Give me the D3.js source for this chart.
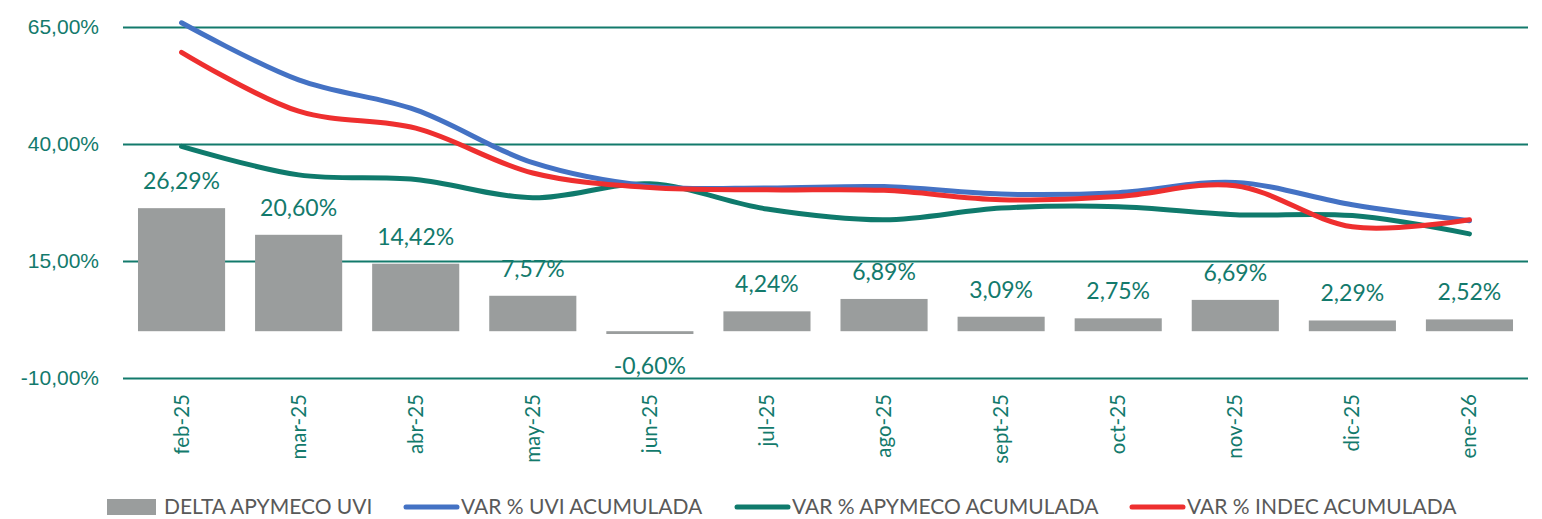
<!DOCTYPE html>
<html>
<head>
<meta charset="utf-8">
<script src="https://cdn.jsdelivr.net/npm/d3@7"></script>
<style>
  body { margin: 0; background: #fff; }
  svg { display: block; font-family: Lato, "Open Sans", sans-serif; }
</style>
</head>
<body>
<div id="chart"></div>
<script>
// Monthly categories
const months = ["feb-25", "mar-25", "abr-25", "may-25", "jun-25", "jul-25",
                "ago-25", "sept-25", "oct-25", "nov-25", "dic-25", "ene-26"];

// Bars: DELTA APYMECO UVI
const deltaApymecoUvi = [26.29, 20.60, 14.42, 7.57, -0.60, 4.24, 6.89, 3.09, 2.75, 6.69, 2.29, 2.52];

// Lines
const varUvi     = [65.9, 53.7, 47.3, 36.0, 31.0, 30.6, 30.9, 29.3, 29.6, 31.8, 27.0, 23.6];
const varApymeco = [39.5, 33.4, 32.4, 28.5, 31.5, 26.1, 23.8, 26.3, 26.6, 24.9, 24.7, 20.8];
const varIndec   = [59.6, 47.0, 43.4, 33.8, 30.7, 30.2, 30.1, 28.1, 28.8, 31.1, 22.3, 23.8];

const yTicks = [-10, 15, 40, 65];

const W = 1542, H = 519;
const margin = { top: 27, right: 14, bottom: 141, left: 123 };
const innerW = W - margin.left - margin.right;
const innerH = H - margin.top - margin.bottom;

const teal = "#137a6c";
const colors = { bar: "#9a9d9d", uvi: "#4472c4", apymeco: "#0f7a6c", indec: "#ee2f2f" };

const fmt = v => v.toFixed(2).replace(".", ",") + "%";

const svg = d3.select("#chart").append("svg")
  .attr("width", W).attr("height", H);

const g = svg.append("g").attr("transform", `translate(${margin.left},${margin.top})`);

const x = d3.scaleBand().domain(months).range([0, innerW])
  .paddingInner(0.256).paddingOuter(0.128);
const y = d3.scaleLinear().domain([-10, 65]).range([innerH, 0]);

// Gridlines + y labels
const yAxis = d3.axisLeft(y).tickValues(yTicks).tickSize(-innerW).tickFormat(fmt).tickPadding(24);
const ya = g.append("g").call(yAxis);
ya.select(".domain").remove();
ya.selectAll(".tick line").attr("stroke", teal).attr("stroke-width", 2);
ya.selectAll(".tick text").attr("fill", teal).style("font-size", "21px");

// Bars
g.selectAll(".bar").data(deltaApymecoUvi).enter().append("rect")
  .attr("class", "bar")
  .attr("x", (d, i) => x(months[i]))
  .attr("width", x.bandwidth())
  .attr("y", d => y(Math.max(0, d)))
  .attr("height", d => Math.abs(y(d) - y(0)))
  .attr("fill", colors.bar);

// Bar labels
g.selectAll(".blabel").data(deltaApymecoUvi).enter().append("text")
  .attr("class", "blabel")
  .attr("x", (d, i) => x(months[i]) + x.bandwidth() / 2)
  .attr("y", d => d >= 0 ? y(d) - 19 : y(d) + 40)
  .attr("text-anchor", "middle")
  .attr("fill", teal)
  .style("font-size", "23px")
  .text(fmt);

// Lines
const line = d3.line()
  .x((d, i) => x(months[i]) + x.bandwidth() / 2)
  .y(d => y(d))
  .curve(d3.curveCatmullRom.alpha(0.5));

[[varApymeco, colors.apymeco], [varUvi, colors.uvi], [varIndec, colors.indec]].forEach(([s, c]) => {
  g.append("path").datum(s)
    .attr("d", line)
    .attr("fill", "none")
    .attr("stroke", c)
    .attr("stroke-width", 5)
    .attr("stroke-linecap", "round");
});

// X labels (rotated)
g.selectAll(".xlabel").data(months).enter().append("text")
  .attr("class", "xlabel")
  .attr("transform", d => `translate(${x(d) + x.bandwidth() / 2 + 7},${innerH + 16}) rotate(-90)`)
  .attr("text-anchor", "end")
  .attr("fill", teal)
  .style("font-size", "20.5px")
  .text(d => d);

// Legend
const legend = [
  { name: "DELTA APYMECO UVI", color: colors.bar, type: "rect", x: 107 },
  { name: "VAR % UVI ACUMULADA", color: colors.uvi, type: "line", x: 404 },
  { name: "VAR % APYMECO ACUMULADA", color: colors.apymeco, type: "line", x: 735 },
  { name: "VAR % INDEC ACUMULADA", color: colors.indec, type: "line", x: 1130 }
];
const lg = svg.append("g").attr("transform", "translate(0,507)");
legend.forEach(l => {
  if (l.type === "rect") {
    lg.append("rect").attr("x", l.x).attr("y", -8).attr("width", 49).attr("height", 16).attr("fill", l.color);
  } else {
    lg.append("line").attr("x1", l.x + 2).attr("x2", l.x + 53).attr("y1", 0).attr("y2", 0)
      .attr("stroke", l.color).attr("stroke-width", 5).attr("stroke-linecap", "round");
  }
  lg.append("text").attr("x", l.x + 57).attr("y", 0).attr("dy", "0.35em")
    .attr("fill", "#595959").style("font-size", "21px").text(l.name);
});
</script>
</body>
</html>
